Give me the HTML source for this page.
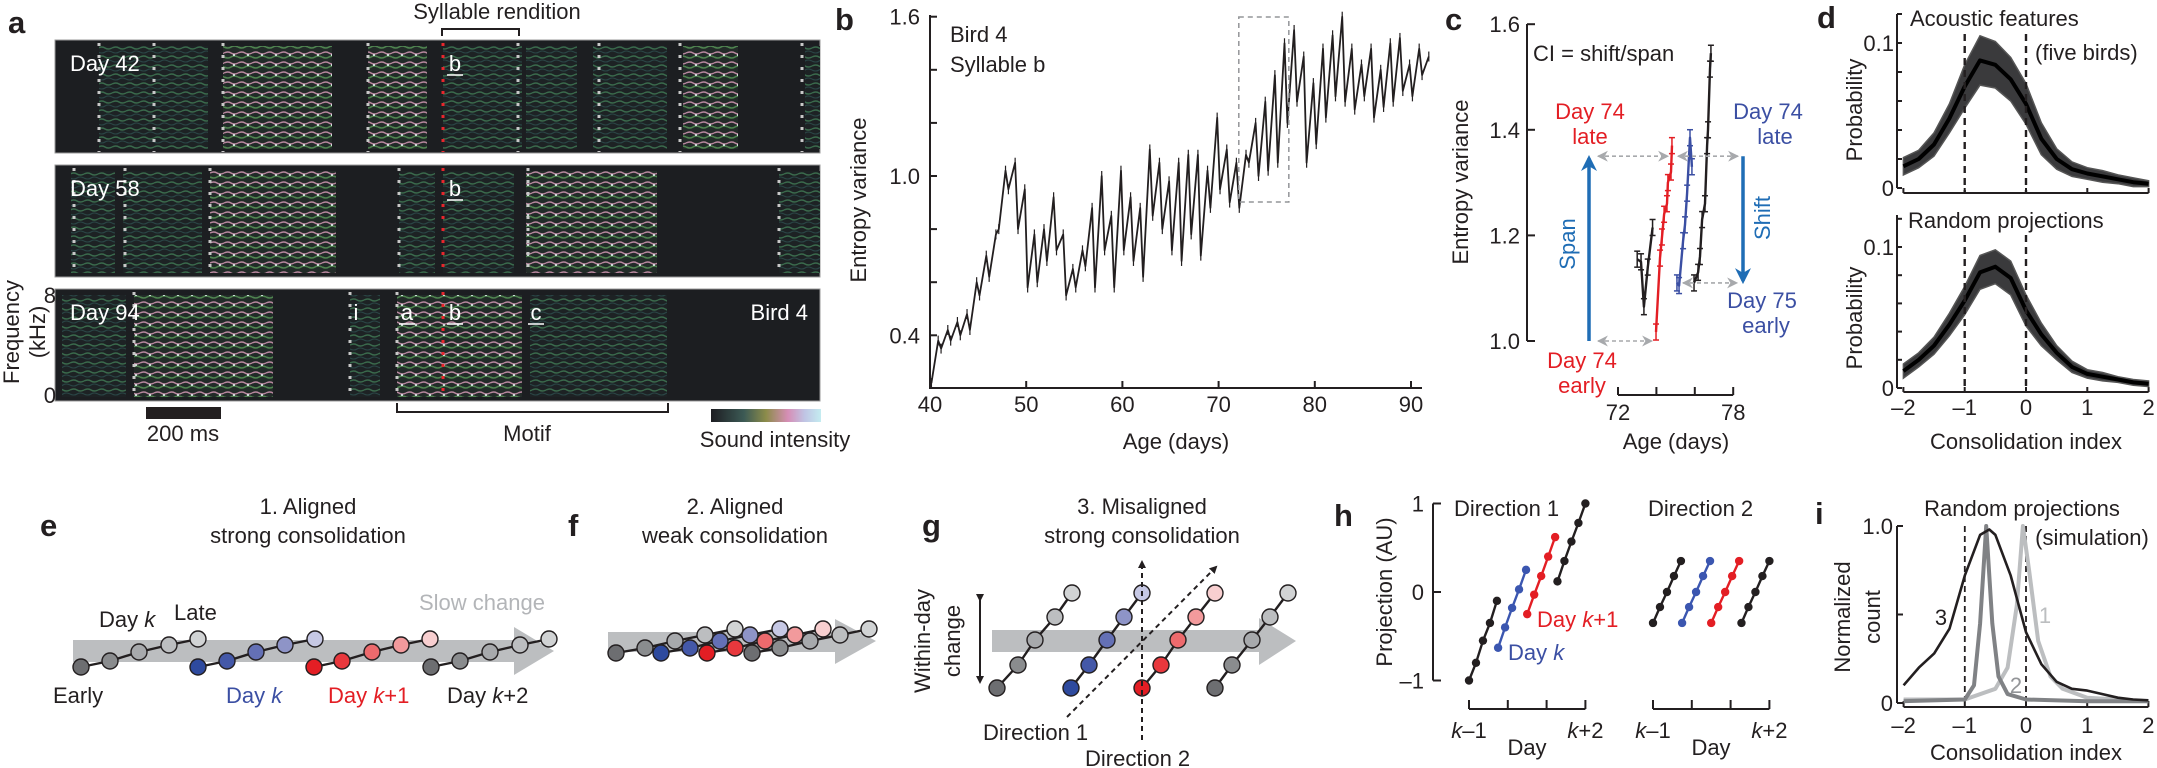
<!DOCTYPE html>
<html><head><meta charset="utf-8">
<style>
html,body{margin:0;padding:0;background:#fff;}
svg{display:block;font-family:"Liberation Sans",Arial,sans-serif;}
.t{font-size:22px;fill:#231f20;}
.pl{font-size:31px;font-weight:bold;fill:#231f20;}
.w{font-size:22px;fill:#fff;}
</style></head>
<body>
<svg id="fig" width="2157" height="768" viewBox="0 0 2157 768" xmlns="http://www.w3.org/2000/svg">
<defs>
<pattern id="texG" width="14" height="9" patternUnits="userSpaceOnUse">
<rect width="14" height="9" fill="#1d2224"/>
<path d="M0 3 Q4 1 7 3 T14 3" stroke="#3a6a4c" stroke-width="1.4" fill="none"/>
<path d="M0 7 Q4 9 7 7 T14 7" stroke="#2a4646" stroke-width="1.1" fill="none"/>
</pattern>
<pattern id="texB" width="14" height="10" patternUnits="userSpaceOnUse">
<rect width="14" height="10" fill="#222b28"/>
<path d="M0 3 Q4 1 7 3 T14 3" stroke="#b8879f" stroke-width="1.4" fill="none"/>
<path d="M0 7 Q4 9 7 7 T14 7" stroke="#4f8450" stroke-width="1.6" fill="none"/>
<circle cx="10" cy="5" r="1.1" fill="#d8e4e4"/>
</pattern>
<linearGradient id="cbar" x1="0" x2="1">
<stop offset="0" stop-color="#1d1d22"/><stop offset="0.3" stop-color="#3c5a55"/>
<stop offset="0.5" stop-color="#8c8c4a"/><stop offset="0.7" stop-color="#d68eb6"/>
<stop offset="0.85" stop-color="#c0c4e4"/><stop offset="1" stop-color="#c4ecf0"/>
</linearGradient>
<marker id="ahB" markerWidth="8" markerHeight="8" refX="6" refY="4" orient="auto" markerUnits="userSpaceOnUse"><path d="M0 0 L8 4 L0 8 Z" fill="#231f20"/></marker>
<marker id="ahBlue" viewBox="0 0 10 10" markerWidth="16" markerHeight="18" refX="8" refY="5" orient="auto" markerUnits="userSpaceOnUse"><path d="M0 0 L10 5 L0 10 L3 5 Z" fill="#1f6db5"/></marker>
<marker id="ahG" viewBox="0 0 10 10" markerWidth="11" markerHeight="11" refX="9" refY="5" orient="auto-start-reverse" markerUnits="userSpaceOnUse"><path d="M0 0 L10 5 L0 10 L3 5 Z" fill="#a7a9ac"/></marker>
</defs>

<g>
<text class="pl" x="8" y="33">a</text>
<text class="t" x="497" y="19" text-anchor="middle">Syllable rendition</text>
<path d="M442 36 V29 H519 V36" stroke="#231f20" stroke-width="2" fill="none"/>
<g id="spec"></g>
<text class="t" transform="translate(19,332) rotate(-90)" text-anchor="middle">Frequency</text>
<text class="t" transform="translate(45,332) rotate(-90)" text-anchor="middle">(kHz)</text>
<text class="t" x="56" y="303" text-anchor="end">8</text>
<text class="t" x="56" y="403" text-anchor="end">0</text>
<rect x="146" y="407" width="75" height="12" fill="#231f20"/>
<text class="t" x="183" y="441" text-anchor="middle">200 ms</text>
<path d="M397 403 V412 H668 V403" stroke="#231f20" stroke-width="2" fill="none"/>
<text class="t" x="527" y="441" text-anchor="middle">Motif</text>
<rect x="711" y="409" width="110" height="13" fill="url(#cbar)"/>
<text class="t" x="775" y="447" text-anchor="middle">Sound intensity</text>
</g>

<g>
<text class="pl" x="835" y="30">b</text>
<text class="t" transform="translate(866,200) rotate(-90)" text-anchor="middle">Entropy variance</text>
<text class="t" x="950" y="42">Bird 4</text>
<text class="t" x="950" y="72">Syllable b</text>
<text class="t" x="1176" y="449" text-anchor="middle">Age (days)</text>
<g id="pb"></g>
</g>

<g>
<text class="pl" x="1445" y="30">c</text>
<text class="t" transform="translate(1468,182) rotate(-90)" text-anchor="middle">Entropy variance</text>
<text class="t" x="1533" y="61">CI = shift/span</text>
<text class="t" x="1590" y="119" text-anchor="middle" style="fill:#e31e24">Day 74</text>
<text class="t" x="1590" y="144" text-anchor="middle" style="fill:#e31e24">late</text>
<text class="t" x="1582" y="368" text-anchor="middle" style="fill:#e31e24">Day 74</text>
<text class="t" x="1582" y="393" text-anchor="middle" style="fill:#e31e24">early</text>
<text class="t" transform="translate(1575,244) rotate(-90)" text-anchor="middle" style="fill:#1f6db5">Span</text>
<text class="t" transform="translate(1770,218) rotate(-90)" text-anchor="middle" style="fill:#1f6db5">Shift</text>
<text class="t" x="1768" y="119" text-anchor="middle" style="fill:#3b4fa3">Day 74</text>
<text class="t" x="1775" y="144" text-anchor="middle" style="fill:#3b4fa3">late</text>
<text class="t" x="1762" y="308" text-anchor="middle" style="fill:#3b4fa3">Day 75</text>
<text class="t" x="1766" y="333" text-anchor="middle" style="fill:#3b4fa3">early</text>
<text class="t" x="1676" y="449" text-anchor="middle">Age (days)</text>
<g id="pc"></g>
</g>

<g>
<text class="pl" x="1817" y="28">d</text>
<text class="t" x="1910" y="26">Acoustic features</text>
<text class="t" x="2035" y="60">(five birds)</text>
<text class="t" x="1908" y="228">Random projections</text>
<text class="t" transform="translate(1862,110) rotate(-90)" text-anchor="middle">Probability</text>
<text class="t" transform="translate(1862,318) rotate(-90)" text-anchor="middle">Probability</text>
<text class="t" x="2026" y="449" text-anchor="middle">Consolidation index</text>
<g id="pd"></g>
</g>

<g>
<text class="pl" x="40" y="536">e</text>
<text class="t" x="308" y="514" text-anchor="middle">1. Aligned</text>
<text class="t" x="308" y="543" text-anchor="middle">strong consolidation</text>
<path d="M73 640 H514 V627 L554 651 L514 675 V662 H73 Z" fill="#bcbec0"/>
<text class="t" x="419" y="610" style="fill:#b3b5b8">Slow change</text>
<text class="t" x="99" y="627">Day <tspan font-style="italic">k</tspan></text>
<text class="t" x="174" y="620">Late</text>
<text class="t" x="53" y="703">Early</text>
<text class="t" x="226" y="703" style="fill:#3b4fa3">Day <tspan font-style="italic">k</tspan></text>
<text class="t" x="328" y="703" style="fill:#e31e24">Day <tspan font-style="italic">k</tspan>+1</text>
<text class="t" x="447" y="703">Day <tspan font-style="italic">k</tspan>+2</text>
<g id="pe"></g>
</g>

<g>
<text class="pl" x="568" y="536">f</text>
<text class="t" x="735" y="514" text-anchor="middle">2. Aligned</text>
<text class="t" x="735" y="543" text-anchor="middle">weak consolidation</text>
<path d="M608 632 H835 V619 L876 641 L835 664 V652 H608 Z" fill="#bcbec0"/>
<g id="pf"></g>
</g>

<g>
<text class="pl" x="922" y="536">g</text>
<text class="t" x="1142" y="514" text-anchor="middle">3. Misaligned</text>
<text class="t" x="1142" y="543" text-anchor="middle">strong consolidation</text>
<text class="t" transform="translate(930,641) rotate(-90)" text-anchor="middle">Within-day</text>
<text class="t" transform="translate(960,641) rotate(-90)" text-anchor="middle">change</text>
<line x1="980" y1="600" x2="980" y2="682" stroke="#231f20" stroke-width="2" marker-start="url(#ahB)" marker-end="url(#ahB)"/>
<path d="M992 630 H1259 V618 L1296 641 L1259 665 V652 H992 Z" fill="#bcbec0"/>
<g id="pg"></g>
<line x1="1142" y1="740" x2="1142" y2="562" stroke="#231f20" stroke-width="2" stroke-dasharray="5,4" marker-end="url(#ahB)"/>
<line x1="1067" y1="717" x2="1216" y2="567" stroke="#231f20" stroke-width="2" stroke-dasharray="5,4" marker-end="url(#ahB)"/>
<text class="t" x="983" y="740">Direction 1</text>
<text class="t" x="1085" y="766">Direction 2</text>
</g>

<g>
<text class="pl" x="1334" y="526">h</text>
<text class="t" transform="translate(1392,592) rotate(-90)" text-anchor="middle">Projection (AU)</text>
<text class="t" x="1454" y="516">Direction 1</text>
<text class="t" x="1648" y="516">Direction 2</text>
<text class="t" x="1537" y="627" style="fill:#e31e24">Day <tspan font-style="italic">k</tspan>+1</text>
<text class="t" x="1508" y="660" style="fill:#3b4fa3">Day <tspan font-style="italic">k</tspan></text>
<text class="t" x="1527" y="755" text-anchor="middle">Day</text>
<text class="t" x="1711" y="755" text-anchor="middle">Day</text>
<g id="ph"></g>
</g>

<g>
<text class="pl" x="1815" y="524">i</text>
<text class="t" x="2022" y="516" text-anchor="middle">Random projections</text>
<text class="t" x="2092" y="545" text-anchor="middle">(simulation)</text>
<text class="t" transform="translate(1850,617) rotate(-90)" text-anchor="middle">Normalized</text>
<text class="t" transform="translate(1880,617) rotate(-90)" text-anchor="middle">count</text>
<text class="t" x="2026" y="760" text-anchor="middle">Consolidation index</text>
<text class="t" x="1941" y="625" text-anchor="middle">3</text>
<text class="t" x="2045" y="623" text-anchor="middle" style="fill:#bcbec0">1</text>
<text class="t" x="2016" y="693" text-anchor="middle" style="fill:#939598">2</text>
<g id="pi"></g>
</g>
</svg>

<script>
// ---------- Panel b data ----------
const bDays  = [40,41,42,43,44,45,46,47,48,49,50,51,52,53,54,55,56,57,58,59,60,61,62,63,64,65,66,67,68,69,70,71,72,73,74,75,76,77,78,79,80,81,82,83,84,85,86,87,88,89,90,91];
const bEarly = [0.22,0.35,0.38,0.40,0.42,0.55,0.62,0.80,0.95,0.80,0.58,0.60,0.68,0.72,0.55,0.58,0.66,0.58,0.72,0.58,0.72,0.68,0.62,0.85,0.80,0.72,0.68,0.78,0.70,0.88,0.95,0.90,0.88,1.05,1.00,1.02,1.05,1.20,1.28,1.05,1.12,1.22,1.30,1.28,1.25,1.30,1.22,1.26,1.28,1.32,1.30,1.38];
const bLate  = [0.38,0.42,0.45,0.48,0.60,0.70,0.78,1.02,1.05,0.95,0.78,0.80,0.92,0.78,0.65,0.72,0.88,1.00,0.85,1.02,0.92,0.88,1.10,1.05,0.98,1.05,1.08,1.08,1.02,1.22,1.10,1.05,1.08,1.20,1.28,1.38,1.50,1.55,1.45,1.35,1.48,1.53,1.60,1.48,1.42,1.48,1.40,1.50,1.52,1.42,1.48,1.45];
const bYTicks = [0.4,0.6,0.8,1.0,1.2,1.4,1.6];
const bYLabels = ["0.4","","","1.0","","","1.6"];
const bXTicks = [40,50,60,70,80,90];

// ---------- Panel c data ----------
const cBlack1Days = [73.0,73.2,73.35,73.55,73.8];
const cBlack1Vals = [1.155,1.15,1.065,1.14,1.215];
const cRedDays = [73.98,74.19,74.29,74.4,74.55,74.6,74.76,74.81];
const cRedVals = [1.017,1.157,1.197,1.24,1.26,1.30,1.32,1.37];
const cBlueDays = [75.07,75.18,75.39,75.49,75.6,75.75,75.85];
const cBlueVals = [1.11,1.105,1.19,1.22,1.28,1.385,1.33];
const cBlack2Days = [75.96,76.17,76.27,76.38,76.53,76.64,76.69,76.79,76.84];
const cBlack2Vals = [1.11,1.13,1.16,1.23,1.26,1.37,1.40,1.515,1.545];
const cYTicks = [1.0,1.2,1.4,1.6];
const cYLabels = ["1.0","1.2","1.4","1.6"];
const cXTicks = [72,74,76,78];
const cXLabels = ["72","","","78"];

// ---------- Panel d data ----------
const dX = [-2,-1.75,-1.5,-1.25,-1,-0.75,-0.5,-0.25,0,0.25,0.5,0.75,1,1.25,1.5,1.75,2];
const dAcousticMean = [0.015,0.02,0.03,0.048,0.07,0.088,0.085,0.075,0.058,0.034,0.02,0.013,0.01,0.008,0.006,0.004,0.003];
const dAcousticSpread = [0.006,0.006,0.008,0.01,0.015,0.017,0.016,0.015,0.014,0.011,0.007,0.005,0.004,0.004,0.003,0.003,0.002];
const dRandomMean = [0.012,0.02,0.03,0.045,0.062,0.082,0.086,0.078,0.055,0.038,0.025,0.015,0.01,0.008,0.006,0.004,0.003];
const dRandomSpread = [0.005,0.005,0.006,0.008,0.01,0.012,0.012,0.012,0.011,0.008,0.005,0.004,0.003,0.003,0.002,0.002,0.002];
const dXTicks = [-2,-1,0,1,2];

// ---------- Panel h data ----------
const hSegStart = [0,0.75,1.5,2.28];
const hWithin = [0,0.18,0.36,0.54,0.72];
const hDir1 = [[-1,-0.8,-0.55,-0.35,-0.1],[-0.63,-0.4,-0.18,0.03,0.25],[-0.25,-0.03,0.18,0.4,0.62],[0.12,0.35,0.57,0.78,1.0]];
const hDir2 = [[-0.35,-0.17,0,0.18,0.35],[-0.35,-0.17,0,0.18,0.35],[-0.35,-0.17,0,0.18,0.35],[-0.35,-0.17,0,0.18,0.35]];
const hColors = ["#231f20","#3b56b0","#e31e24","#231f20"];

// ---------- Panel i data ----------
const iX3 = [-2,-1.75,-1.5,-1.25,-1,-0.75,-0.6,-0.5,-0.25,0,0.25,0.5,0.75,1,1.25,1.5,1.75,2];
const iY3 = [0.1,0.2,0.28,0.42,0.72,0.95,0.98,0.95,0.72,0.4,0.22,0.12,0.08,0.07,0.05,0.03,0.02,0.015];
const iX2 = [-2,-1,-0.85,-0.75,-0.65,-0.55,-0.45,-0.3,0,1,2];
const iY2 = [0.01,0.02,0.1,0.45,1.0,0.45,0.15,0.05,0.02,0.01,0.01];
const iX1 = [-2,-1,-0.5,-0.3,-0.15,-0.05,0.05,0.2,0.4,0.6,1,2];
const iY1 = [0.02,0.02,0.08,0.2,0.55,1.0,0.75,0.35,0.15,0.08,0.03,0.01];

const NS = "http://www.w3.org/2000/svg";
function mk(tag, parent){ const e = document.createElementNS(NS, tag); parent.appendChild(e); return e; }
function line(p, x1,y1,x2,y2, col, w){
  const l = mk('line', p);
  l.setAttribute('x1',x1); l.setAttribute('y1',y1); l.setAttribute('x2',x2); l.setAttribute('y2',y2);
  l.setAttribute('stroke', col); l.setAttribute('stroke-width', w);
  return l;
}
function txt(p, x, y, s, anchor){
  const t = mk('text', p);
  t.setAttribute('x',x); t.setAttribute('y',y); t.setAttribute('class','t');
  t.setAttribute('text-anchor', anchor||'middle'); t.textContent = s; return t;
}
function poly(p, pts, col, w){
  const pl = mk('polyline', p);
  pl.setAttribute('points', pts.map(q=>q[0].toFixed(1)+','+q[1].toFixed(1)).join(' '));
  pl.setAttribute('fill','none'); pl.setAttribute('stroke',col); pl.setAttribute('stroke-width',w);
  pl.setAttribute('stroke-linejoin','round');
  return pl;
}

// ===== Panel a spectrograms =====
(function(){
  const g = document.getElementById('spec');
  const rows = [[40,153],[165,277],[289,401]];
  const dayLabels = ["Day 42","Day 58","Day 94"];
  const segs = [
    [[99,208,'G'],[223,332,'B'],[368,427,'B'],[443,522,'G'],[526,577,'G'],[593,667,'G'],[683,738,'B'],[805,820,'G']],
    [[71,115,'G'],[123,202,'G'],[210,336,'B'],[399,435,'G'],[443,514,'G'],[526,657,'B'],[779,820,'G']],
    [[62,126,'G'],[134,273,'B'],[350,380,'G'],[397,522,'B'],[530,667,'G']]
  ];
  const dots = [[99,154,223,368,518,599,680,802],[74,125,210,399,528,779],[134,350,397]];
  rows.forEach((r,i)=>{
    const bg = mk('rect', g);
    
    
    bg.setAttribute('x',55); bg.setAttribute('y',r[0]); bg.setAttribute('width',765); bg.setAttribute('height',r[1]-r[0]);
    bg.setAttribute('fill','#1c1e21'); bg.setAttribute('stroke','#9a9a9a'); bg.setAttribute('stroke-width',1);
    segs[i].forEach(s=>{
      const sr = mk('rect', g);
      
      
      sr.setAttribute('x',s[0]); sr.setAttribute('y',r[0]+6); sr.setAttribute('width',s[1]-s[0]); sr.setAttribute('height',r[1]-r[0]-10);
      sr.setAttribute('fill', s[2]==='B' ? 'url(#texB)' : 'url(#texG)');
    });
    dots[i].forEach(x=>{
      const dl = mk('line', g);
      
      
      dl.setAttribute('x1',x); dl.setAttribute('x2',x); dl.setAttribute('y1',r[0]+3); dl.setAttribute('y2',r[1]-1);
      dl.setAttribute('stroke','#c8c8c8'); dl.setAttribute('stroke-width',3); dl.setAttribute('stroke-dasharray','3,9');
    });
    const rl = mk('line', g);
    
    
    rl.setAttribute('x1',443); rl.setAttribute('x2',443); rl.setAttribute('y1',r[0]+3); rl.setAttribute('y2',r[1]-1);
    rl.setAttribute('stroke','#e8262c'); rl.setAttribute('stroke-width',3); rl.setAttribute('stroke-dasharray','3,9');
    const dlab = mk('text', g);
    
    
    dlab.setAttribute('x',70); dlab.setAttribute('y',r[0]+31); dlab.setAttribute('class','w'); dlab.textContent = dayLabels[i];
  });
  const lbls = [[455,0,'b'],[455,1,'b'],[356,2,'i'],[407,2,'a'],[455,2,'b'],[536,2,'c']];
  lbls.forEach(l=>{
    const t = mk('text', g);
    
    
    t.setAttribute('x',l[0]); t.setAttribute('y',rows[l[1]][0]+31); t.setAttribute('class','w');
    t.setAttribute('text-anchor','middle'); t.textContent = l[2];
    if(l[2]!=='i'){ const u = line(g, l[0]-8, rows[l[1]][0]+35, l[0]+8, rows[l[1]][0]+35, '#fff', 1.5);
      
       }
  });
  const bt = mk('text', g);
  
  
  bt.setAttribute('x',808); bt.setAttribute('y',320); bt.setAttribute('class','w'); bt.setAttribute('text-anchor','end'); bt.textContent='Bird 4';
})();

// ===== Panel b =====
(function(){
  const g = document.getElementById('pb');
  const xb = d => 930 + (d-40)*9.62;
  const yb = v => 176 - (v-1)*265.5;
  const ya = line(g, 930, 15, 930, 388, '#231f20', 2);
  
  
  const xa = line(g, 929, 388, 1422, 388, '#231f20', 2);
  
  
  bYTicks.forEach((v,i)=>{
    const tk = line(g, 930, yb(v), 937, yb(v), '#231f20', 2);
    
    
    if(bYLabels[i]){ const t = txt(g, 920, yb(v)+8, bYLabels[i], 'end');
      
       }
  });
  bXTicks.forEach(d=>{
    const tk = line(g, xb(d), 388, xb(d), 381, '#231f20', 2);
    
    
    const t = txt(g, xb(d), 412, String(d));
    
    
  });
  const pts = [];
  bDays.forEach((d,i)=>{ pts.push([xb(d+0.15), yb(bEarly[i])]); pts.push([xb(d+0.85), yb(bLate[i])]); });
  const pl = poly(g, pts, '#231f20', 1.8);
  
  
  pts.forEach(p=>{
    const e = line(g, p[0], p[1]-5, p[0], p[1]+5, '#231f20', 1.2);
    
    
  });
  const box = mk('rect', g);
  
  
  box.setAttribute('x', xb(72.1)); box.setAttribute('y', 17); box.setAttribute('width', xb(77.3)-xb(72.1)); box.setAttribute('height', 185);
  box.setAttribute('fill','none'); box.setAttribute('stroke','#939598'); box.setAttribute('stroke-width',1.5); box.setAttribute('stroke-dasharray','5,4');
})();

// ===== Panel c =====
(function(){
  const g = document.getElementById('pc');
  const xc = d => 1618 + (d-72)*19.2;
  const yc = v => 341 - (v-1)*528;
  const ya = line(g, 1527, 24, 1527, 341, '#231f20', 2);
  
  
  cYTicks.forEach((v,i)=>{
    const tk = line(g, 1527, yc(v), 1535, yc(v), '#231f20', 2);
    
    
    const t = txt(g, 1520, yc(v)+8, cYLabels[i], 'end');
    
    
  });
  const xa = line(g, xc(72), 395, xc(78), 395, '#231f20', 2);
  
  
  cXTicks.forEach((d,i)=>{
    const tk = line(g, xc(d), 395, xc(d), 387, '#231f20', 2);
    
    
    if(cXLabels[i]){ const t = txt(g, xc(d), 420, cXLabels[i]);
      
       }
  });
  const series = [[cBlack1Days,cBlack1Vals,'#231f20','c-day73-line'],[cRedDays,cRedVals,'#e31e24','c-day74-line'],[cBlueDays,cBlueVals,'#3b4fa3','c-day75-line'],[cBlack2Days,cBlack2Vals,'#231f20','c-day76-line']];
  series.forEach(s=>{
    const pts = s[0].map((d,i)=>[xc(d), yc(s[1][i])]);
    const pl = poly(g, pts, s[2], 2.4);
    
    
    pts.forEach(p=>{
      const e = line(g, p[0], p[1]-8, p[0], p[1]+8, s[2], 1.5);
      
      
      const c1 = line(g, p[0]-3, p[1]-8, p[0]+3, p[1]-8, s[2], 1.5);
      
      
      const c2 = line(g, p[0]-3, p[1]+8, p[0]+3, p[1]+8, s[2], 1.5);
      
      
    });
  });
  const span = line(g, 1589, yc(1.0), 1589, yc(1.35)+2, '#1f6db5', 3.5);
  span.setAttribute('marker-end','url(#ahBlue)');
  
  
  const shift = line(g, 1743, yc(1.35), 1743, yc(1.11)-2, '#1f6db5', 3.5);
  shift.setAttribute('marker-end','url(#ahBlue)');
  
  
  const dashes = [[1598,1668,yc(1.35)],[1678,1738,yc(1.35)],[1598,1652,yc(1.0)],[1683,1737,yc(1.11)]];
  dashes.forEach(dd=>{
    const l = line(g, dd[0], dd[2], dd[1], dd[2], '#a7a9ac', 1.6);
    l.setAttribute('stroke-dasharray','4,3');
    l.setAttribute('marker-start','url(#ahG)');
    l.setAttribute('marker-end','url(#ahG)');
    
    
  });
})();

// ===== Panel d =====
(function(){
  const g = document.getElementById('pd');
  const xd = c => 2026 + c*61.3;
  const subs = [
    {top:14, y0:188, y01:43, axisY:193, mean:dAcousticMean, sp:dAcousticSpread, name:'acoustic'},
    {top:215, y0:388, y01:247, axisY:392, mean:dRandomMean, sp:dRandomSpread, name:'random'}
  ];
  subs.forEach(s=>{
    const yd = p => s.y0 - p*(s.y0-s.y01)/0.1;
    const ya = line(g, 1897, s.top, 1897, s.y0, '#231f20', 2);
    
    
    [0,0.02,0.04,0.06,0.08,0.1,0.12].forEach(v=>{
      if(yd(v) < s.top-1) return;
      const tk = line(g, 1897, yd(v), 1902, yd(v), '#231f20', 2);
      
      
    });
    const l1 = txt(g, 1894, s.y01+8, '0.1', 'end');
    
    
    const l0 = txt(g, 1894, s.y0+8, '0', 'end');
    
    
    const xa = line(g, xd(-2), s.axisY, xd(2), s.axisY, '#231f20', 2);
    
    
    dXTicks.forEach(c=>{
      const tk = line(g, xd(c), s.axisY, xd(c), s.axisY-5, '#231f20', 2);
      
      
    });
    const band = mk('polygon', g);
    
    
    const up = dX.map((c,i)=>xd(c).toFixed(1)+','+yd(s.mean[i]+s.sp[i]).toFixed(1));
    const lo = dX.map((c,i)=>xd(c).toFixed(1)+','+yd(Math.max(0,s.mean[i]-s.sp[i])).toFixed(1)).reverse();
    band.setAttribute('points', up.concat(lo).join(' '));
    band.setAttribute('fill','#3a3a3c'); band.setAttribute('stroke','#555'); band.setAttribute('stroke-width',1.5);
    const ml = poly(g, dX.map((c,i)=>[xd(c), yd(s.mean[i])]), '#000', 4);
    
    
    [-1,0].forEach(c=>{
      const dl = line(g, xd(c), s.top+20, xd(c), s.axisY, '#231f20', 2.4);
      dl.setAttribute('stroke-dasharray','7,5');
      
      
    });
  });
  dXTicks.forEach(c=>{
    const t = txt(g, xd(c), 415, c<0 ? '\u2013'+Math.abs(c) : String(c));
    
    
  });
})();

// ===== Panel e / f / g dots =====
const grayShades = ["#6d6e71","#8a8c8e","#a7a9ac","#bcbec0","#d1d3d4"];
const blueShades = ["#2e4a9e","#4458a8","#6470b5","#8e94c7","#c6c8e4"];
const redShades  = ["#e31e24","#e8383d","#ed6a6d","#f29a9c","#f8cfd0"];
function dayChain(g, xs, ys, cols, r, name){
  const pl = poly(g, xs.map((x,i)=>[x, ys[i]]), '#231f20', 2.4);
  
  
  xs.forEach((x,i)=>{
    const c = mk('circle', g);
    
    
    c.setAttribute('cx',x); c.setAttribute('cy',ys[i]); c.setAttribute('r',r);
    c.setAttribute('fill',cols[i]); c.setAttribute('stroke','#231f20'); c.setAttribute('stroke-width',1.4);
  });
}
(function(){
  const g = document.getElementById('pe');
  const ys = [667,661,652,645,639];
  dayChain(g,[81,110,139,169,198],ys,grayShades,8,'e-day-k-minus-1');
  dayChain(g,[198,227,256,285,315],ys,blueShades,8,'e-day-k');
  dayChain(g,[314,342,372,401,430],ys,redShades,8,'e-day-k-plus-1');
  dayChain(g,[431,460,490,520,549],ys,grayShades,8,'e-day-k-plus-2');
})();
(function(){
  const g = document.getElementById('pf');
  const ys = [653,648,641,635,629];
  dayChain(g,[616,645,675,705,735],ys,grayShades,8,'f-day-k-minus-1');
  dayChain(g,[661,690,720,750,780],ys,blueShades,8,'f-day-k');
  dayChain(g,[707,735,765,795,823],ys,redShades,8,'f-day-k-plus-1');
  dayChain(g,[752,780,810,840,869],ys,grayShades,8,'f-day-k-plus-2');
})();
(function(){
  const g = document.getElementById('pg');
  const ys = [688,665,640,617,593];
  dayChain(g,[997,1018,1035,1055,1072],ys,grayShades,8,'g-day-k-minus-1');
  dayChain(g,[1071,1089,1107,1124,1142],ys,blueShades,8,'g-day-k');
  dayChain(g,[1142,1161,1178,1196,1215],ys,redShades,8,'g-day-k-plus-1');
  dayChain(g,[1215,1232,1252,1270,1288],ys,grayShades,8,'g-day-k-plus-2');
})();

// ===== Panel h =====
(function(){
  const g = document.getElementById('ph');
  const yh = v => 592 - v*88.5;
  const ya = line(g, 1433, yh(1), 1433, yh(-1), '#231f20', 2);
  
  
  [[1,'1'],[0,'0'],[-1,'\u20131']].forEach(t=>{
    const tk = line(g, 1433, yh(t[0]), 1441, yh(t[0]), '#231f20', 2);
    
    
    const lb = txt(g, 1424, yh(t[0])+8, t[1], 'end');
    
    
  });
  const panels = [{x0:1469, data:hDir1, name:'direction-1'},{x0:1653, data:hDir2, name:'direction-2'}];
  panels.forEach(P=>{
    const xh = t => P.x0 + t*38.8;
    const xa = line(g, xh(0), 709, xh(3), 709, '#231f20', 2);
    
    
    [0,1,2,3].forEach(t=>{
      const tk = line(g, xh(t), 709, xh(t), 700, '#231f20', 2);
      
      
    });
    const a = mk('text', g);
    
    
    a.setAttribute('x',xh(0)); a.setAttribute('y',738); a.setAttribute('class','t'); a.setAttribute('text-anchor','middle');
    a.innerHTML = '<tspan font-style="italic">k</tspan>\u20131';
    const b = mk('text', g);
    
    
    b.setAttribute('x',xh(3)); b.setAttribute('y',738); b.setAttribute('class','t'); b.setAttribute('text-anchor','middle');
    b.innerHTML = '<tspan font-style="italic">k</tspan>+2';
    P.data.forEach((vals,si)=>{
      const pts = vals.map((v,j)=>[xh(hSegStart[si]+hWithin[j]), yh(v)]);
      const pl = poly(g, pts, hColors[si], 2.4);
      
      
      pts.forEach(p=>{
        const c = mk('circle', g);
        
        
        c.setAttribute('cx',p[0]); c.setAttribute('cy',p[1]); c.setAttribute('r',4.2); c.setAttribute('fill',hColors[si]);
      });
    });
  });
})();

// ===== Panel i =====
(function(){
  const g = document.getElementById('pi');
  const xi = c => 2026 + c*61.2;
  const yi = v => 703 - v*177;
  const ya = line(g, 1897, yi(1), 1897, yi(0), '#231f20', 2);
  
  
  [[1,'1.0'],[0.5,''],[0,'0']].forEach(t=>{
    const tk = line(g, 1897, yi(t[0]), 1903, yi(t[0]), '#231f20', 2);
    
    
    if(t[1]){ const lb = txt(g, 1893, yi(t[0])+8, t[1], 'end');
      
       }
  });
  const xa = line(g, xi(-2), 707, xi(2), 707, '#231f20', 2);
  
  
  dXTicks.forEach(c=>{
    const tk = line(g, xi(c), 707, xi(c), 701, '#231f20', 2);
    
    
    const t = txt(g, xi(c), 733, c<0 ? '\u2013'+Math.abs(c) : String(c));
    
    
  });
  [-1,0].forEach(c=>{
    const dl = line(g, xi(c), yi(1), xi(c), 707, '#231f20', 1.8);
    dl.setAttribute('stroke-dasharray','6,4');
    
    
  });
  const c1 = poly(g, iX1.map((c,i)=>[xi(c), yi(iY1[i])]), '#bcbec0', 4);
  
  
  const c2 = poly(g, iX2.map((c,i)=>[xi(c), yi(iY2[i])]), '#808285', 4);
  
  
  const c3 = poly(g, iX3.map((c,i)=>[xi(c), yi(iY3[i])]), '#231f20', 2.6);
  
  
})();
</script>
</body></html>
